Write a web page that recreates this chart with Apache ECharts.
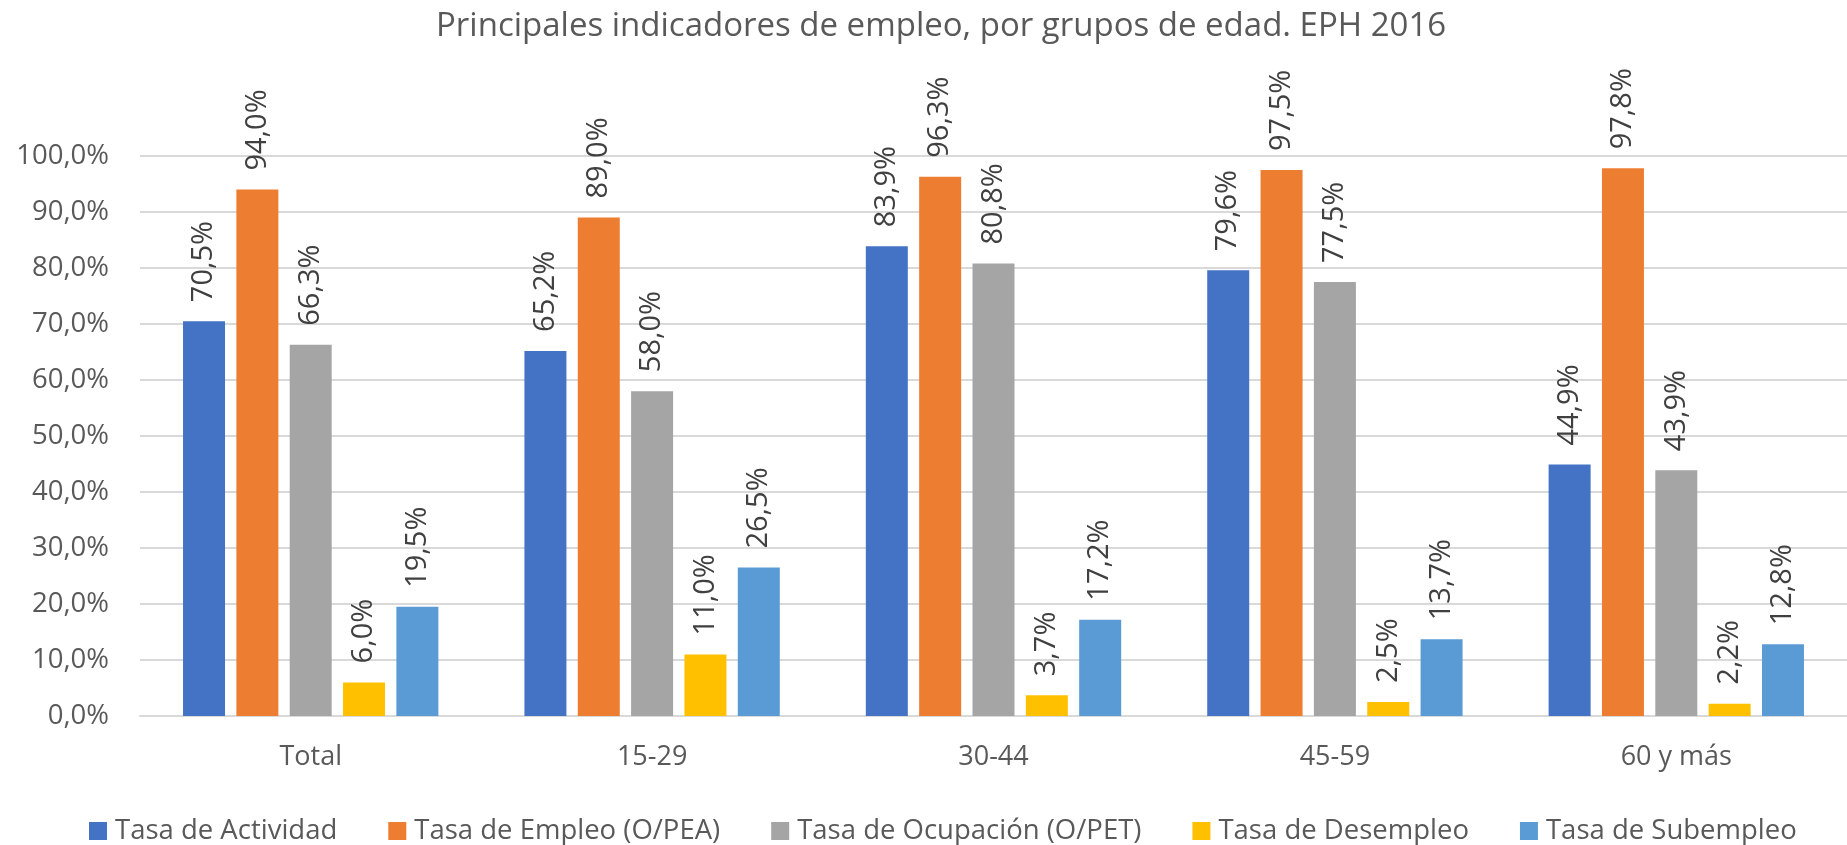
<!DOCTYPE html>
<html>
<head>
<meta charset="utf-8">
<title>Principales indicadores de empleo</title>
<script src="https://cdn.jsdelivr.net/npm/echarts@6/dist/echarts.min.js"></script>
<style>
  html, body { margin: 0; padding: 0; background: #fff; }
  #chart { width: 1847px; height: 845px; }
</style>
</head>
<body>
<div id="chart"></div>
<script>
// categories and series values (percent)
var categories = ['Total', '15-29', '30-44', '45-59', '60 y más']
var seriesNames = [
  'Tasa de Actividad',
  'Tasa de Empleo (O/PEA)',
  'Tasa de Ocupación (O/PET)',
  'Tasa de Desempleo',
  'Tasa de Subempleo'
]
var actividad = [70.5, 65.2, 83.9, 79.6, 44.9]
var empleo = [94.0, 89.0, 96.3, 97.5, 97.8]
var ocupacion = [66.3, 58.0, 80.8, 77.5, 43.9]
var desempleo = [6.0, 11.0, 3.7, 2.5, 2.2]
var subempleo = [19.5, 26.5, 17.2, 13.7, 12.8]
var colors = ['#4472C4', '#ED7D31', '#A5A5A5', '#FFC000', '#5B9BD5']

var font = '"Open Sans", "Noto Sans", sans-serif'

function pct(v) {
  return Number(v).toFixed(1).replace('.', ',') + '%'
}

function makeSeries(name, data, color) {
  return {
    name: name,
    type: 'bar',
    data: data,
    barWidth: 42,
    barGap: '27%',
    itemStyle: { color: color },
    label: {
      show: true,
      position: 'top',
      rotate: 90,
      align: 'left',
      verticalAlign: 'middle',
      distance: 19,
      color: '#404040',
      fontFamily: font,
      fontSize: 29,
      formatter: function (p) { return pct(p.value) }
    },
    animation: false
  }
}

var chart = echarts.init(document.getElementById('chart'))
chart.setOption({
  backgroundColor: '#fff',
  title: {
    text: 'Principales indicadores de empleo, por grupos de edad. EPH 2016',
    left: 431,
    top: 5,
    textStyle: {
      fontFamily: font,
      fontSize: 33,
      fontWeight: 'normal',
      color: '#595959'
    }
  },
  legend: {
    data: seriesNames,
    left: 84,
    top: 812,
    icon: 'rect',
    itemWidth: 18,
    itemHeight: 18,
    itemGap: 51,
    textStyle: {
      fontFamily: font,
      fontSize: 27.5,
      color: '#595959',
      padding: [0, 0, 0, 3]
    }
  },
  grid: {
    left: 140,
    top: 156,
    width: 1725,
    height: 560,
    containLabel: false
  },
  xAxis: {
    type: 'category',
    data: categories,
    axisTick: { show: false },
    axisLine: { lineStyle: { color: '#d9d9d9', width: 2 } },
    axisLabel: {
      margin: 28,
      color: '#595959',
      fontFamily: font,
      fontSize: 27
    }
  },
  yAxis: {
    type: 'value',
    min: 0,
    max: 100,
    interval: 10,
    axisLine: { show: false },
    axisTick: { show: false },
    splitLine: { lineStyle: { color: '#d9d9d9', width: 2 } },
    axisLabel: {
      margin: 31,
      color: '#595959',
      fontFamily: font,
      fontSize: 27.5,
      formatter: function (v) { return pct(v) }
    }
  },
  series: [
    makeSeries(seriesNames[0], actividad, colors[0]),
    makeSeries(seriesNames[1], empleo, colors[1]),
    makeSeries(seriesNames[2], ocupacion, colors[2]),
    makeSeries(seriesNames[3], desempleo, colors[3]),
    makeSeries(seriesNames[4], subempleo, colors[4])
  ]
})
</script>
</body>
</html>
